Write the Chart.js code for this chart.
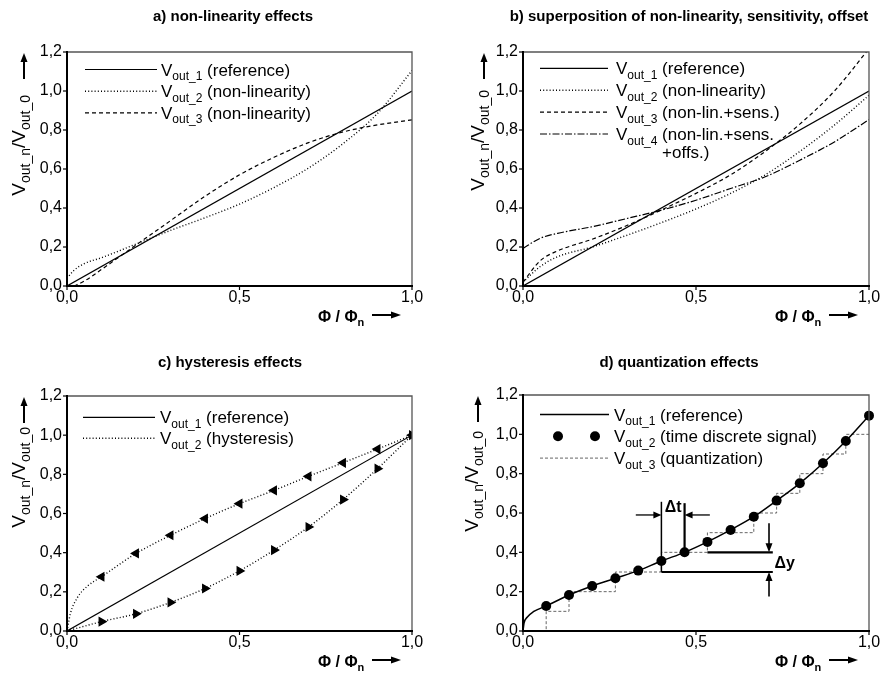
<!DOCTYPE html>
<html>
<head>
<meta charset="utf-8">
<script src="https://cdn.jsdelivr.net/npm/chart.js@4.4.1/dist/chart.umd.min.js"></script>
<style>
  html, body { margin: 0; padding: 0; background: #fff; }
  #wrap { position: relative; width: 882px; height: 675px; }
  canvas { position: absolute; }
</style>
</head>
<body>
<div id="wrap">
  <canvas id="chartA" width="441" height="330" style="left:0;top:0"></canvas>
  <canvas id="chartB" width="441" height="330" style="left:441px;top:0"></canvas>
  <canvas id="chartC" width="441" height="345" style="left:0;top:330px"></canvas>
  <canvas id="chartD" width="441" height="345" style="left:441px;top:330px"></canvas>
</div>
<script>
// ticks shared by all four panels
const xTicks = [0, 0.5, 1.0];
const yTicks = [0, 0.2, 0.4, 0.6, 0.8, 1.0, 1.2];

// a) non-linearity effects
const aRefX = [0, 1];
const aRef = [0, 1];
const aNl2X = [0, 0.02, 0.05, 0.1, 0.2, 0.3, 0.4, 0.5, 0.6, 0.7, 0.8, 0.9, 1.0];
const aNl2 = [0.04, 0.08, 0.115, 0.145, 0.215, 0.285, 0.35, 0.42, 0.505, 0.605, 0.73, 0.885, 1.105];
const aNl3X = [0.02, 0.05, 0.1, 0.2, 0.3, 0.4, 0.5, 0.6, 0.7, 0.8, 0.9, 1.0];
const aNl3 = [0, 0.025, 0.085, 0.21, 0.335, 0.46, 0.57, 0.66, 0.735, 0.79, 0.826, 0.852];

// b) superposition of non-linearity, sensitivity, offset
const bRefX = [0, 1];
const bRef = [0, 1];
const bX = [0, 0.05, 0.1, 0.2, 0.3, 0.4, 0.5, 0.6, 0.7, 0.8, 0.9, 1.0];
const bNl = [0.02, 0.1, 0.15, 0.2, 0.26, 0.325, 0.395, 0.475, 0.57, 0.69, 0.825, 0.978];
const bNlSens = [0.02, 0.13, 0.18, 0.24, 0.31, 0.39, 0.475, 0.57, 0.69, 0.83, 1.0, 1.217];
const bNlSensOff = [0.193, 0.245, 0.27, 0.304, 0.346, 0.389, 0.44, 0.5, 0.56, 0.645, 0.739, 0.853];

// c) hysteresis effects
const cRefX = [0, 1];
const cRef = [0, 1];
const cUpX = [0, 0.01, 0.03, 0.06, 0.1, 0.2, 0.3, 0.4, 0.5, 0.6, 0.7, 0.8, 0.9, 1.0];
const cUp = [0, 0.09, 0.17, 0.23, 0.277, 0.396, 0.489, 0.574, 0.65, 0.718, 0.79, 0.859, 0.929, 1.0];
const cLowX = [0, 0.1, 0.2, 0.3, 0.4, 0.5, 0.6, 0.7, 0.8, 0.9, 1.0];
const cLow = [0, 0.048, 0.088, 0.146, 0.217, 0.307, 0.413, 0.531, 0.671, 0.829, 1.0];

// d) quantization effects
const dRefX = [0, 0.003, 0.012, 0.03, 0.067, 0.133, 0.2, 0.267, 0.333, 0.4, 0.467, 0.533, 0.6, 0.667, 0.733, 0.8, 0.867, 0.933, 1.0];
const dRef = [0, 0.04, 0.07, 0.098, 0.127, 0.183, 0.229, 0.268, 0.307, 0.356, 0.40, 0.453, 0.514, 0.581, 0.663, 0.751, 0.853, 0.966, 1.095];
const dSampleX = [0.067, 0.133, 0.2, 0.267, 0.333, 0.4, 0.467, 0.533, 0.6, 0.667, 0.733, 0.8, 0.867, 0.933, 1.0];
const dSample = [0.127, 0.183, 0.229, 0.268, 0.307, 0.356, 0.40, 0.453, 0.514, 0.581, 0.663, 0.751, 0.853, 0.966, 1.095];
const dQuantX = [0, 0.067, 0.133, 0.2, 0.267, 0.333, 0.4, 0.467, 0.533, 0.6, 0.667, 0.733, 0.8, 0.867, 0.933, 1.0];
const dQuant = [0, 0.1, 0.2, 0.2, 0.3, 0.3, 0.4, 0.4, 0.5, 0.5, 0.6, 0.7, 0.8, 0.9, 1.0, 1.0];

const titles = ['a) non-linearity effects', 'b) superposition of non-linearity, sensitivity, offset',
                'c) hysteresis effects', 'd) quantization effects'];
const legendA = ['(reference)', '(non-linearity)', '(non-linearity)'];
const legendB = ['(reference)', '(non-linearity)', '(non-lin.+sens.)', '(non-lin.+sens.'];
const legendC = ['(reference)', '(hysteresis)'];
const legendD = ['(reference)', '(time discrete signal)', '(quantization)'];

const FONT = "'Liberation Sans', Arial, Helvetica, sans-serif";

function pts(xs, ys) {
  return xs.map((x, i) => ({ x: x, y: ys[i] }));
}

function vout(n, text) {
  return [{ t: 'V' }, { t: 'out_' + n, sub: true }, { t: ' ' + text }];
}

function richWidth(ctx, parts, size, subSize, weight) {
  let w = 0;
  parts.forEach(p => {
    ctx.font = (weight || '') + ' ' + (p.sub ? subSize : size) + 'px ' + FONT;
    w += ctx.measureText(p.t).width;
  });
  return w;
}

function drawRich(ctx, parts, x, y, size, subSize, weight) {
  parts.forEach(p => {
    ctx.font = (weight || '') + ' ' + (p.sub ? subSize : size) + 'px ' + FONT;
    ctx.fillText(p.t, x, p.sub ? y + size * 0.27 : y);
    x += ctx.measureText(p.t).width;
  });
  return x;
}

function arrow(ctx, x0, y0, x1, y1, head, half) {
  const ang = Math.atan2(y1 - y0, x1 - x0), c = Math.cos(ang), s = Math.sin(ang);
  ctx.beginPath();
  ctx.moveTo(x0, y0);
  ctx.lineTo(x1 - c * head * 0.7, y1 - s * head * 0.7);
  ctx.stroke();
  ctx.beginPath();
  ctx.moveTo(x1, y1);
  ctx.lineTo(x1 - c * head + s * half, y1 - s * head - c * half);
  ctx.lineTo(x1 - c * head - s * half, y1 - s * head + c * half);
  ctx.closePath();
  ctx.fill();
}

function fmt(v) {
  return v.toFixed(1).replace('.', ',');
}

// quantization annotation (delta t / delta y) in panel d
function drawDeltas(chart) {
  const ctx = chart.ctx, xs = chart.scales.x, ys = chart.scales.y;
  const X = v => xs.getPixelForValue(v), Y = v => ys.getPixelForValue(v);
  ctx.setLineDash([]);
  ctx.strokeStyle = '#000';
  ctx.fillStyle = '#000';
  ctx.lineWidth = 1.5;
  ctx.beginPath(); ctx.moveTo(X(0.4), Y(0.657)); ctx.lineTo(X(0.4), Y(0.3)); ctx.stroke();
  ctx.lineWidth = 2.2;
  ctx.beginPath(); ctx.moveTo(X(0.467), Y(0.65)); ctx.lineTo(X(0.467), Y(0.4)); ctx.stroke();
  ctx.beginPath(); ctx.moveTo(X(0.4), Y(0.3)); ctx.lineTo(X(0.722), Y(0.3)); ctx.stroke();
  ctx.beginPath(); ctx.moveTo(X(0.533), Y(0.4)); ctx.lineTo(X(0.722), Y(0.4)); ctx.stroke();
  ctx.lineWidth = 1.3;
  arrow(ctx, X(0.326), Y(0.59), X(0.4), Y(0.59), 8, 3.5);
  arrow(ctx, X(0.54), Y(0.59), X(0.467), Y(0.59), 8, 3.5);
  ctx.lineWidth = 1.6;
  arrow(ctx, X(0.711), Y(0.548), X(0.711), Y(0.4), 9, 3.5);
  arrow(ctx, X(0.711), Y(0.175), X(0.711), Y(0.3), 9, 3.5);
  ctx.font = 'bold 16px ' + FONT;
  ctx.textBaseline = 'middle';
  ctx.textAlign = 'center';
  ctx.fillText('\u0394t', X(0.434), Y(0.626));
  ctx.textAlign = 'left';
  ctx.fillText('\u0394y', X(0.727), Y(0.345));
}

const decor = {
  id: 'decor',
  afterDraw(chart, args, o) {
    const ctx = chart.ctx, a = chart.chartArea, xs = chart.scales.x, ys = chart.scales.y;
    ctx.save();
    ctx.setLineDash([]);

    if (o.deltas) drawDeltas(chart);

    // frame
    ctx.lineWidth = 1.3;
    ctx.strokeStyle = '#555';
    ctx.beginPath();
    ctx.moveTo(a.left, a.top); ctx.lineTo(a.right, a.top); ctx.lineTo(a.right, a.bottom);
    ctx.stroke();
    ctx.lineWidth = 2;
    ctx.strokeStyle = '#000';
    ctx.beginPath();
    ctx.moveTo(a.left, a.top - 1); ctx.lineTo(a.left, a.bottom); ctx.lineTo(a.right + 1, a.bottom);
    ctx.stroke();

    // ticks and tick labels
    ctx.lineWidth = 1.2;
    ctx.fillStyle = '#000';
    ctx.font = '16px ' + FONT;
    ctx.textAlign = 'right';
    ctx.textBaseline = 'middle';
    yTicks.forEach(v => {
      const y = ys.getPixelForValue(v);
      ctx.beginPath(); ctx.moveTo(a.left - 4, y); ctx.lineTo(a.left, y); ctx.stroke();
      ctx.fillText(fmt(v), a.left - 5, y);
    });
    ctx.textAlign = 'center';
    xTicks.forEach(v => {
      const x = xs.getPixelForValue(v);
      ctx.beginPath(); ctx.moveTo(x, a.bottom); ctx.lineTo(x, a.bottom + 4); ctx.stroke();
      ctx.fillText(fmt(v), x, a.bottom + 12);
    });

    // title
    ctx.font = 'bold 15px ' + FONT;
    ctx.fillText(o.title, o.titleX, o.titleY);

    // y axis label with arrow
    ctx.lineWidth = 2;
    arrow(ctx, o.yArrowX, a.top + 27, o.yArrowX, a.top + 1, 9, 3.5);
    const yParts = [{ t: 'V' }, { t: 'out_n', sub: true }, { t: '/V' }, { t: 'out_0', sub: true }];
    ctx.save();
    ctx.translate(o.yLabX, a.top + o.yLabTop);
    ctx.rotate(-Math.PI / 2);
    ctx.textAlign = 'left';
    ctx.textBaseline = 'alphabetic';
    const w = richWidth(ctx, yParts, 19, 14);
    drawRich(ctx, yParts, -w, 6.8, 19, 14);
    ctx.restore();

    // x axis label with arrow
    ctx.textAlign = 'left';
    ctx.textBaseline = 'alphabetic';
    drawRich(ctx, [{ t: '\u03A6 / \u03A6' }, { t: 'n', sub: true }], a.right - 94, a.bottom + 36, 16, 11, 'bold');
    arrow(ctx, a.right - 40, a.bottom + 29, a.right - 11, a.bottom + 29, 10, 3.5);

    // legend
    const L = o.legend;
    L.items.forEach((it, i) => {
      const y = a.top + L.top + i * L.dy;
      if (it.dots) {
        ctx.fillStyle = '#000';
        L.dots.forEach(dx => {
          ctx.beginPath(); ctx.arc(a.left + dx, y, 5, 0, Math.PI * 2); ctx.fill();
        });
      } else {
        const ds = chart.data.datasets[it.ds];
        ctx.setLineDash(ds.borderDash || []);
        ctx.lineWidth = ds.borderWidth;
        ctx.strokeStyle = ds.borderColor;
        ctx.beginPath(); ctx.moveTo(a.left + L.x0, y); ctx.lineTo(a.left + L.x1, y); ctx.stroke();
        ctx.setLineDash([]);
      }
      ctx.fillStyle = '#000';
      drawRich(ctx, it.parts, a.left + L.tx, y + 6, 17, 12);
      if (it.more) {
        const off = richWidth(ctx, it.parts.slice(0, 2).concat([{ t: ' ' }]), 17, 12);
        drawRich(ctx, [{ t: it.more }], a.left + L.tx + off, y + 6 + L.dy * 0.82, 17, 12);
      }
    });
    ctx.restore();
  }
};

function makePanel(id, datasets, padding, deco) {
  return new Chart(document.getElementById(id), {
    type: 'line',
    data: { datasets: datasets },
    options: {
      responsive: false,
      animation: false,
      events: [],
      layout: { padding: padding },
      elements: {
        line: { borderColor: '#000', borderWidth: 1.2, fill: false, cubicInterpolationMode: 'monotone' },
        point: { radius: 0 }
      },
      scales: {
        x: { type: 'linear', min: 0, max: 1, display: false },
        y: { type: 'linear', min: 0, max: 1.2, display: false }
      },
      plugins: { legend: { display: false }, tooltip: { enabled: false }, title: { display: false }, decor: deco }
    },
    plugins: [decor]
  });
}

const solid = { borderColor: '#000', borderWidth: 1.2, borderDash: [] };
const dotted = { borderColor: '#000', borderWidth: 1.4, borderDash: [1, 2.2] };
const dashed = { borderColor: '#000', borderWidth: 1.2, borderDash: [4, 3] };
const dashDot = { borderColor: '#000', borderWidth: 1.2, borderDash: [7, 2, 1.5, 2] };

makePanel('chartA', [
  Object.assign({ data: pts(aRefX, aRef) }, solid),
  Object.assign({ data: pts(aNl2X, aNl2) }, dotted),
  Object.assign({ data: pts(aNl3X, aNl3) }, dashed)
], { left: 67, right: 29, top: 52, bottom: 44 }, {
  title: titles[0], titleX: 233, titleY: 17,
  yLabX: 18, yArrowX: 24, yLabTop: 43,
  legend: { x0: 18, x1: 90, tx: 94, top: 17.5, dy: 21.7,
    items: legendA.map((t, i) => ({ ds: i, parts: vout(i + 1, t) })) }
});

makePanel('chartB', [
  Object.assign({ data: pts(bRefX, bRef) }, solid),
  Object.assign({ data: pts(bX, bNl) }, dotted),
  Object.assign({ data: pts(bX, bNlSens) }, dashed),
  Object.assign({ data: pts(bX, bNlSensOff) }, dashDot)
], { left: 82, right: 13, top: 52, bottom: 44 }, {
  title: titles[1], titleX: 248, titleY: 17,
  yLabX: 36, yArrowX: 43, yLabTop: 38,
  legend: { x0: 17, x1: 85, tx: 93, top: 16.3, dy: 21.9,
    items: legendB.map((t, i) => ({ ds: i, parts: vout(i + 1, t), more: i === 3 ? '+offs.)' : null })) }
});

makePanel('chartC', [
  Object.assign({ data: pts(cRefX, cRef) }, solid),
  Object.assign({ data: pts(cLowX, cLow), pointStyle: 'triangle', pointRotation: 90, backgroundColor: '#000',
    pointRadius: cLowX.map(x => (x >= 0.1 ? 4.5 : 0)) }, dotted),
  Object.assign({ data: pts(cUpX, cUp), pointStyle: 'triangle', pointRotation: 270, backgroundColor: '#000',
    pointRadius: cUpX.map(x => (x >= 0.1 ? 4.5 : 0)) }, dotted)
], { left: 67, right: 29, top: 66, bottom: 44 }, {
  title: titles[2], titleX: 230, titleY: 33,
  yLabX: 18, yArrowX: 24, yLabTop: 31,
  legend: { x0: 16, x1: 88, tx: 93, top: 21.3, dy: 21,
    items: legendC.map((t, i) => ({ ds: i, parts: vout(i + 1, t) })) }
});

makePanel('chartD', [
  Object.assign({ data: pts(dRefX, dRef), order: 1 }, solid, { borderWidth: 1.5 }),
  { data: pts(dSampleX, dSample), showLine: false, pointRadius: 5, pointBackgroundColor: '#000',
    pointBorderWidth: 0, clip: false, order: 0 },
  { data: pts(dQuantX, dQuant), stepped: true, borderColor: '#666', borderWidth: 1, borderDash: [3, 2], order: 2 }
], { left: 82, right: 13, top: 65, bottom: 44 }, {
  title: titles[3], titleX: 238, titleY: 33,
  yLabX: 30, yArrowX: 37, yLabTop: 36,
  deltas: true,
  legend: { x0: 17, x1: 86, tx: 91, top: 19.5, dy: 21.8, dots: [35, 72],
    items: legendD.map((t, i) => ({ ds: i, dots: i === 1, parts: vout(i + 1, t) })) }
});
</script>
</body>
</html>
